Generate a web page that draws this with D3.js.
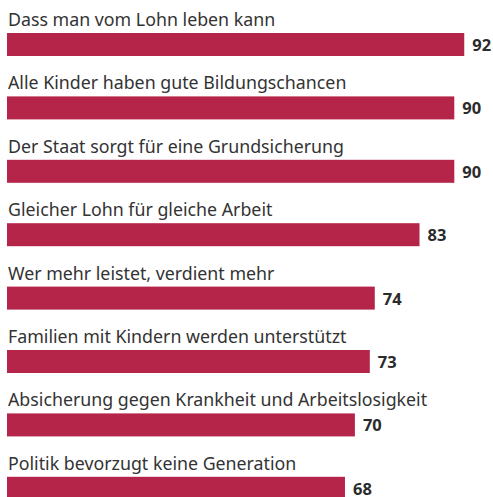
<!DOCTYPE html>
<html>
<head>
<meta charset="utf-8">
<script src="https://cdn.jsdelivr.net/npm/d3@7"></script>
<style>
  body { margin: 0; background: #fff; }
</style>
</head>
<body>
<div id="chart"></div>
<script>
// chart data
var categories = [
    "Dass man vom Lohn leben kann",
    "Alle Kinder haben gute Bildungschancen",
    "Der Staat sorgt für eine Grundsicherung",
    "Gleicher Lohn für gleiche Arbeit",
    "Wer mehr leistet, verdient mehr",
    "Familien mit Kindern werden unterstützt",
    "Absicherung gegen Krankheit und Arbeitslosigkeit",
    "Politik bevorzugt keine Generation"
];
var values = [92, 90, 90, 83, 74, 73, 70, 68];

var width = 493, height = 497;

var svg = d3.select("#chart")
    .append("svg")
    .attr("width", width)
    .attr("height", height);

// x scale: value -> bar length
var x = d3.scaleLinear()
    .domain([0, 100])
    .range([7, 504]);

// row positions
var y = d3.scaleBand()
    .domain(categories)
    .range([33, 33 + 63.4 * categories.length])
    .paddingInner(0)
    .paddingOuter(0);

var barHeight = 23;

var rows = svg.selectAll(".row")
    .data(categories)
    .enter()
    .append("g")
    .attr("class", "row")
    .attr("transform", d => "translate(0," + y(d) + ")");

// category labels above bars
rows.append("text")
    .attr("x", 8)
    .attr("y", -7)
    .text(d => d)
    .style("font-family", "'Noto Sans', sans-serif")
    .style("font-size", "17.8px")
    .style("fill", "#333");

// bars
rows.append("rect")
    .attr("x", x(0))
    .attr("y", 0)
    .attr("height", barHeight)
    .attr("width", (d, i) => x(values[i]) - x(0))
    .attr("fill", "#b5254a");

// value labels
rows.append("text")
    .attr("x", (d, i) => x(values[i]) + 8)
    .attr("y", barHeight / 2 + 6.5)
    .text((d, i) => values[i])
    .style("font-family", "'Open Sans', sans-serif")
    .style("font-size", "16.5px")
    .style("font-weight", "bold")
    .style("fill", "#2b2b2b");
</script>
</body>
</html>
